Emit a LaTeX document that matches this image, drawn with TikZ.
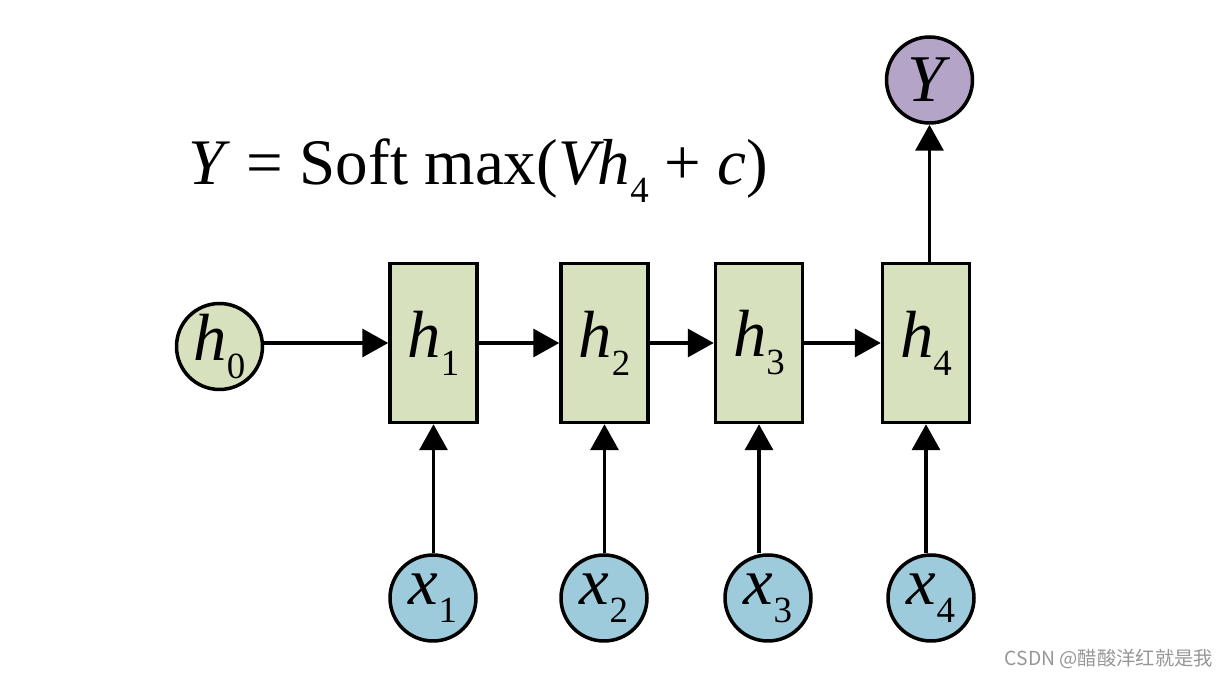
\documentclass[tikz,border=0pt]{standalone}
\usepackage{fontspec}
\setmainfont{Liberation Serif}
\newfontfamily\cjk{Noto Sans CJK SC}
\usetikzlibrary{arrows.meta}
\definecolor{mauH}{RGB}{215,225,190}
\definecolor{mauX}{RGB}{157,203,219}
\definecolor{mauY}{RGB}{180,164,200}
\definecolor{mauWM}{RGB}{150,150,150}
\newcommand{\chiso}[1]{\raisebox{-0.27em}{\fontsize{21}{21}\selectfont #1}}
\begin{document}
\begin{tikzpicture}[x=0.02cm, y=-0.02cm, line width=2pt, >={Triangle[length=0.52cm,width=0.56cm]},
	font=\fontsize{38}{40}\selectfont,
	tron/.style={circle, draw, inner sep=0pt, minimum size=1.72cm},
	hop/.style={draw, fill=mauH, inner sep=0pt, minimum width=1.74cm, minimum height=3.18cm}]
	\useasboundingbox (0,0) rectangle (1228,678);
	% cong thuc
	\node[anchor=base west, inner sep=0pt, font=\fontsize{37}{39}\selectfont] (ct) at (187,185)
		{\textit{Y} = Soft max(\textit{Vh}\chiso{4} + \textit{c})};
	% cac nut
	\node[tron, fill=mauH] (h0) at (219.5,346.5) {\textit{h}\chiso{0}};
	\foreach \i/\x in {1/433.5,2/604.5,3/759,4/926}
		\node[hop] (h\i) at (\x,343) {\textit{h}\chiso{\i}};
	\foreach \i/\x in {1/433,2/604,3/768,4/931}
		\node[tron, fill=mauX] (x\i) at (\x,598) {\textit{x}\chiso{\i}};
	\node[tron, fill=mauY] (Y) at (929.5,80) {\textit{Y}};
	% mui ten
	\draw[->] (h0.east |- h1.west) -- (h1.west);
	\foreach \i [count=\j from 2] in {1,2,3} \draw[->] (h\i) -- (h\j);
	\foreach \i in {1,...,4} \draw[->] (h\i.south |- x\i.north) -- (h\i.south);
	\draw[->] (h4.north -| Y.south) -- (Y);
	\node[anchor=base west, inner sep=0pt, text=mauWM, font=\cjk\fontsize{11}{12}\selectfont] (wm) at (1003,666) {CSDN @醋酸洋红就是我};
\end{tikzpicture}
\end{document}
